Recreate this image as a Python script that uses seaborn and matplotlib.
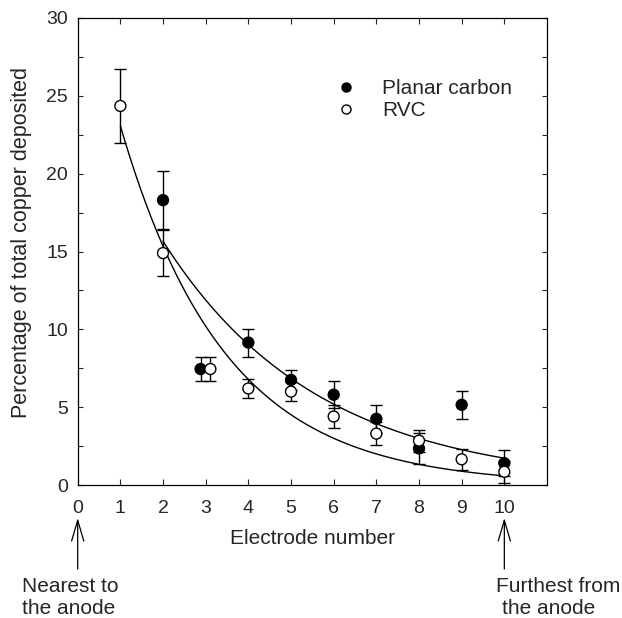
import numpy as np
import pandas as pd
import matplotlib
matplotlib.use("Agg")
import matplotlib.pyplot as plt
from matplotlib.lines import Line2D
import seaborn as sns

# ---------------- data ----------------
electrodes = [1, 2, 3, 4, 5, 6, 7, 8, 9, 10]
planar_pct = [np.nan, 18.3, 7.45, 9.15, 6.75, 5.8, 4.25, 2.35, 5.15, 1.4]
planar_err = [np.nan, 1.85, 0.75, 0.9, 0.65, 0.85, 0.9, 1.0, 0.9, 0.85]
rvc_pct = [24.35, 14.9, 7.45, 6.2, 6.0, 4.4, 3.3, 2.85, 1.65, 0.85]
rvc_err = [2.4, 1.45, 0.75, 0.62, 0.62, 0.72, 0.72, 0.7, 0.68, 0.72]
series_names = ["Planar carbon", "RVC"]
# fitted exponential decay curves y = a * exp(-b * x) (parameters)
planar_fit = {"a": 27.2, "b": 0.276, "start": 2, "end": 10}
rvc_fit = {"a": 34.7, "b": 0.408, "start": 1, "end": 10}
x_ticks = [0, 1, 2, 3, 4, 5, 6, 7, 8, 9, 10]
y_ticks = [0, 5, 10, 15, 20, 25, 30]
y_minor = [2.5, 7.5, 12.5, 17.5, 22.5, 27.5]

# ---------------- style ----------------
sns.set_style("ticks")
plt.rcParams["font.family"] = ["Liberation Sans", "DejaVu Sans"]

# small horizontal dodge where the two series coincide
dodge = {3: (-0.12, 0.11)}

rows = []
for i, e in enumerate(electrodes):
    d = dodge.get(e, (0.0, 0.0))
    rows.append({"electrode": e, "xpos": e + d[0], "pct": planar_pct[i],
                 "err": planar_err[i], "series": series_names[0]})
for i, e in enumerate(electrodes):
    d = dodge.get(e, (0.0, 0.0))
    rows.append({"electrode": e, "xpos": e + d[1], "pct": rvc_pct[i],
                 "err": rvc_err[i], "series": series_names[1]})
df = pd.DataFrame(rows).dropna()

W, H = 622, 618
fig = plt.figure(figsize=(W / 100, H / 100), dpi=100)
L, R, T, B = 77.7, 547, 18, 485
ax = fig.add_axes([L / W, (H - B) / H, (R - L) / W, (B - T) / H])

# fitted curves
for fit in (planar_fit, rvc_fit):
    xs = np.linspace(fit["start"], fit["end"], 300)
    curve = pd.DataFrame({"x": xs, "y": fit["a"] * np.exp(-fit["b"] * xs)})
    sns.lineplot(data=curve, x="x", y="y", color="black", linewidth=1.0,
                 ax=ax, zorder=1, legend=False)

# error bars
ax.errorbar(df["xpos"], df["pct"], yerr=df["err"], fmt="none", ecolor="black",
            elinewidth=1.0, capsize=4.2, capthick=1.0, zorder=2)

# points
sns.scatterplot(data=df, x="xpos", y="pct", hue="series", hue_order=series_names,
                palette={series_names[0]: "black", series_names[1]: "white"},
                edgecolor="black", linewidth=1.0, s=62, ax=ax, legend=False,
                zorder=3)

ax.set_xlim(0, 11)
ax.set_ylim(0, 30)
ax.set_xticks(x_ticks)
ax.set_xticklabels([str(t) for t in x_ticks])
ax.set_yticks(y_ticks)
ax.set_yticklabels([str(t) for t in y_ticks])
ax.set_yticks(y_minor, minor=True)
ax.tick_params(axis="x", which="major", direction="in", top=True, bottom=True,
               length=4.5, width=0.8, pad=10.5, labelsize=14)
ax.tick_params(axis="y", which="both", direction="in", left=True, right=True,
               length=3.7, width=0.8, pad=7, labelsize=14)
for sp in ax.spines.values():
    sp.set_visible(True)
    sp.set_linewidth(0.9)
    sp.set_color("black")

ax.set_xlabel("Electrode number", fontsize=15)
ax.xaxis.set_label_coords(0.5, -0.094)
ax.set_ylabel("Percentage of total copper deposited", fontsize=15.5)
ax.yaxis.set_label_coords(-0.098, 0.52)

# legend
handles = [
    Line2D([], [], marker="o", linestyle="none", markersize=6.5,
           markerfacecolor="black", markeredgecolor="black", markeredgewidth=1.0),
    Line2D([], [], marker="o", linestyle="none", markersize=6.5,
           markerfacecolor="white", markeredgecolor="black", markeredgewidth=1.0),
]
ax.legend(handles, series_names, loc="upper left",
          bbox_to_anchor=(336 / W, 1 - 79 / H), bbox_transform=fig.transFigure,
          frameon=False, borderpad=0, borderaxespad=0, handlelength=1.0,
          handletextpad=1.23, labelspacing=0.15, fontsize=15)

# arrows under the axis
for xv in (0, 10):
    ax.annotate("", xy=(xv, H - 518), xycoords=("data", "figure pixels"),
                xytext=(xv, H - 569), textcoords=("data", "figure pixels"),
                arrowprops=dict(arrowstyle="->,head_length=0.75,head_width=0.22",
                                mutation_scale=20, lw=0.9, color="black",
                                shrinkA=0, shrinkB=0))

fig.text(21.7 / W, 1 - 586 / H, "Nearest to", fontsize=15, ha="left", va="center")
fig.text(21.7 / W, 1 - 608 / H, "the anode", fontsize=15, ha="left", va="center")
fig.text(496 / W, 1 - 586 / H, "Furthest from", fontsize=15, ha="left", va="center")
fig.text(502 / W, 1 - 608 / H, "the anode", fontsize=15, ha="left", va="center")

fig.savefig("out.png", dpi=100)
